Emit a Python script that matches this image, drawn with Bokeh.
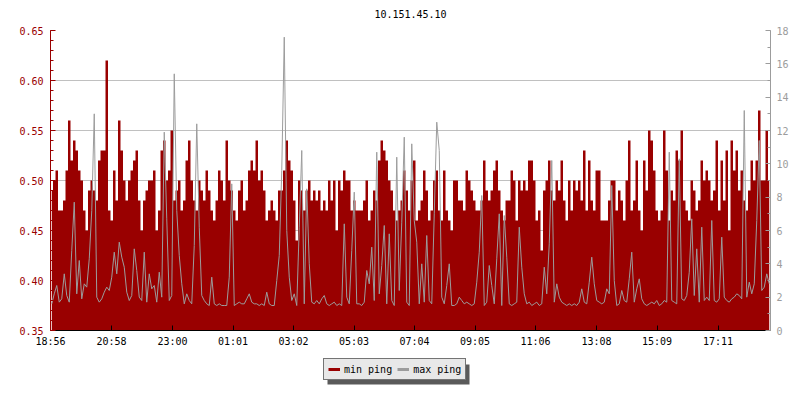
from bokeh.plotting import figure
from bokeh.layouts import column
from bokeh.core.properties import value
from bokeh.models import (Range1d, LinearAxis, FixedTicker, Legend, LegendItem,
                          PrintfTickFormatter, ColumnDataSource)
from bokeh.embed import file_html
from bokeh.resources import INLINE

title_text = "10.151.45.10"
step_minutes = 5
span_minutes = 1440

tick_minutes = [0, 122, 244, 365, 486, 607, 728, 849, 970, 1092, 1213, 1335]
tick_labels = ["18:56", "20:58", "23:00", "01:01", "03:02", "05:03",
               "07:04", "09:05", "11:06", "13:08", "15:09", "17:11"]

left_ticks = [0.35, 0.40, 0.45, 0.50, 0.55, 0.60, 0.65]
left_minor = [0.35, 0.36, 0.37, 0.38, 0.39, 0.40, 0.41, 0.42, 0.43, 0.44, 0.45,
              0.46, 0.47, 0.48, 0.49, 0.50, 0.51, 0.52, 0.53, 0.54, 0.55, 0.56,
              0.57, 0.58, 0.59, 0.60, 0.61, 0.62, 0.63, 0.64, 0.65]
right_ticks = [0, 2, 4, 6, 8, 10, 12, 14, 16, 18]
right_minor = [0, 1, 2, 3, 4, 5, 6, 7, 8, 9, 10, 11, 12, 13, 14, 15, 16, 17, 18]

# min ping (left axis), one value per 5 minutes
min_ping = [
    0.49, 0.50, 0.51, 0.47, 0.47, 0.48, 0.51, 0.56, 0.52, 0.54, 0.53, 0.51, 0.50, 0.47,
    0.45, 0.49, 0.50, 0.49, 0.48, 0.52, 0.53, 0.53, 0.62, 0.47, 0.46, 0.51, 0.48, 0.56,
    0.53, 0.50, 0.48, 0.50, 0.51, 0.52, 0.53, 0.48, 0.45, 0.48, 0.49, 0.50, 0.50,
    0.51, 0.45, 0.47, 0.53, 0.54, 0.50, 0.51, 0.55, 0.48, 0.49, 0.50, 0.47, 0.48, 0.52,
    0.54, 0.50, 0.48, 0.47, 0.50, 0.49, 0.48, 0.51, 0.49, 0.47, 0.46, 0.48, 0.51, 0.50,
    0.48, 0.54, 0.50, 0.49, 0.47, 0.46, 0.49, 0.50, 0.47, 0.48, 0.51, 0.52, 0.51,
    0.54, 0.50, 0.51, 0.49, 0.46, 0.47, 0.48, 0.47, 0.46, 0.49, 0.49, 0.51, 0.54, 0.52,
    0.51, 0.48, 0.44, 0.50, 0.49, 0.47, 0.49, 0.50, 0.48, 0.49, 0.48, 0.49, 0.47, 0.48,
    0.47, 0.50, 0.48, 0.50, 0.45, 0.50, 0.49, 0.51, 0.50, 0.50, 0.47, 0.48, 0.47,
    0.47, 0.47, 0.48, 0.50, 0.46, 0.47, 0.49, 0.48, 0.52, 0.54, 0.53, 0.52, 0.50, 0.49,
    0.47, 0.46, 0.47, 0.48, 0.51, 0.49, 0.47, 0.50, 0.52, 0.46, 0.47, 0.48, 0.51, 0.49,
    0.46, 0.47, 0.50, 0.51, 0.47, 0.46, 0.51, 0.47, 0.46, 0.45, 0.50, 0.50, 0.48,
    0.48, 0.47, 0.51, 0.50, 0.49, 0.48, 0.47, 0.47, 0.48, 0.52, 0.49, 0.48, 0.49, 0.51,
    0.52, 0.49, 0.47, 0.46, 0.48, 0.48, 0.51, 0.50, 0.46, 0.50, 0.49, 0.50, 0.49, 0.52,
    0.52, 0.50, 0.46, 0.47, 0.43, 0.49, 0.50, 0.52, 0.49, 0.48, 0.50, 0.49, 0.52,
    0.48, 0.46, 0.50, 0.47, 0.50, 0.49, 0.50, 0.48, 0.53, 0.47, 0.52, 0.48, 0.47, 0.51,
    0.51, 0.46, 0.46, 0.46, 0.48, 0.50, 0.50, 0.47, 0.49, 0.48, 0.46, 0.50, 0.54, 0.47,
    0.48, 0.52, 0.47, 0.45, 0.52, 0.49, 0.55, 0.54, 0.51, 0.47, 0.46, 0.47, 0.55,
    0.51, 0.46, 0.49, 0.48, 0.53, 0.52, 0.55, 0.48, 0.47, 0.46, 0.50, 0.49, 0.47, 0.48,
    0.52, 0.50, 0.51, 0.50, 0.48, 0.49, 0.54, 0.47, 0.52, 0.48, 0.53, 0.45, 0.54, 0.51,
    0.53, 0.49, 0.51, 0.48, 0.47, 0.49, 0.52, 0.50, 0.52, 0.57, 0.50, 0.50, 0.55, 0.50,
]

# max ping (right axis), one value per 5 minutes
max_ping = [
    1.6, 2.2, 2.7, 1.7, 1.9, 3.4, 2.1, 1.7, 4.8, 7.7, 2.2, 4.2, 1.9, 2.8, 2.6, 4.3, 7.2,
    13.0, 2.0, 1.7, 1.9, 2.3, 2.6, 2.4, 3.2, 4.7, 3.4, 5.3, 4.4, 3.8, 2.3, 1.8, 2.1, 4.9,
    3.6, 2.0, 1.8, 4.7, 1.7, 3.4, 2.5,
    2.7, 1.7, 3.5, 2.0, 11.9, 6.7, 1.8, 2.1, 15.4, 7.2, 4.5, 2.8, 1.6, 2.2, 1.8, 1.6, 5.1,
    12.4, 6.2, 2.1, 1.8, 1.6, 1.5, 3.2, 1.6, 1.5, 1.6, 1.5, 1.5, 1.5, 3.2, 8.8, 1.5, 1.6,
    1.7, 1.6, 1.6, 1.9, 2.2, 1.7, 1.6,
    1.6, 1.5, 1.6, 1.5, 2.3, 1.6, 1.5, 1.5, 3.0, 4.5, 9.6, 17.6, 6.0, 3.2, 1.8, 2.2, 1.5,
    6.2, 10.8, 1.6, 8.5, 4.0, 1.7, 1.6, 1.8, 1.6, 1.9, 2.1, 1.6, 1.5, 1.6, 1.7, 1.5, 1.6,
    1.5, 6.4, 2.0, 1.6, 4.8, 8.3, 1.6,
    1.6, 1.5, 1.7, 3.6, 2.8, 5.0, 1.8, 10.7, 2.2, 3.9, 6.3, 1.6, 5.8, 1.8, 1.5, 10.4, 2.4,
    6.5, 11.6, 1.7, 1.5, 11.2, 6.6, 5.3, 1.6, 4.0, 1.7, 5.7, 1.8, 1.6, 7.0, 12.5, 10.8,
    2.0, 1.6, 2.7, 4.0, 1.5, 1.5, 1.6, 2.0,
    1.8, 1.6, 1.7, 1.6, 1.5, 1.6, 2.9, 4.7, 8.1, 1.5, 1.7, 3.9, 2.7, 1.6, 4.3, 7.0, 1.5,
    6.9, 4.4, 1.6, 1.5, 1.6, 1.7, 6.2, 3.8, 2.2, 1.6, 1.7, 1.5, 1.6, 1.7, 1.5, 1.6, 3.8,
    2.2, 5.2, 10.2, 1.7, 2.8, 2.0, 1.7,
    1.6, 1.5, 1.6, 1.5, 1.6, 1.5, 1.7, 2.5, 1.7, 1.6, 2.9, 4.4, 2.8, 1.8, 1.7, 1.6, 1.7,
    2.5, 2.2, 8.7, 3.0, 1.5, 1.6, 2.4, 1.8, 1.7, 3.1, 4.7, 1.7, 2.5, 3.1, 1.9, 1.6, 1.5,
    1.6, 1.7, 1.6, 1.8, 1.5, 1.6, 1.8,
    1.7, 10.7, 1.8, 1.7, 1.6, 10.3, 1.9, 1.8, 2.1, 3.5, 6.7, 2.1, 4.9, 1.7, 6.2, 1.8, 2.0,
    1.8, 6.6, 1.8, 1.7, 1.9, 5.6, 2.0, 1.8, 1.7, 1.9, 2.0, 2.2, 2.1, 1.9, 13.2, 2.0, 2.9,
    2.2, 2.8, 6.6, 11.4, 2.4, 2.6, 3.4, 2.8,
]

FONT = "DejaVu Sans Mono"
RED = "#990000"
GRAY = "#9c9c9c"

minutes = [i * step_minutes + step_minutes / 2 for i in range(len(min_ping))]
src = ColumnDataSource(dict(t=minutes, mn=min_ping, mx=max_ping))

# title strip (pixel-unit frame spanning page x 50..770)
tf = figure(width=800, height=22, output_backend="svg", toolbar_location=None,
            x_range=Range1d(50, 770), y_range=Range1d(0, 22),
            min_border_left=50, min_border_right=30, min_border_top=0,
            min_border_bottom=0, outline_line_color=None, x_axis_location=None,
            y_axis_location=None, background_fill_color="white",
            border_fill_color="white")
tf.grid.visible = False
tf.text(x=[410], y=[9], text=[title_text], text_align="center",
        text_baseline="middle", text_font=value(FONT), text_font_size="10px",
        text_color="black")

p = figure(width=800, height=330, output_backend="svg", toolbar_location=None,
           x_range=Range1d(0, span_minutes), y_range=Range1d(0.35, 0.65),
           min_border_left=50, min_border_right=30, min_border_top=8,
           min_border_bottom=22, outline_line_color=None,
           background_fill_color="white", border_fill_color="white")

p.extra_y_ranges = {"max": Range1d(0, 18)}

# data
p.varea_step(x="t", y1=0.35, y2="mn", step_mode="center", source=src,
             fill_color=RED, fill_alpha=1)
p.line(x="t", y="mx", y_range_name="max", source=src,
       line_color=GRAY, line_width=1)

# grid
p.xgrid.visible = False
p.ygrid.ticker = FixedTicker(ticks=left_ticks)
p.ygrid.grid_line_color = "#c0c0c0"
p.ygrid.grid_line_width = 1

# left axis
ya = p.yaxis[0]
ya.ticker = FixedTicker(ticks=left_ticks, minor_ticks=left_minor)
ya.formatter = PrintfTickFormatter(format="%.2f")
ya.axis_line_color = RED
ya.major_tick_line_color = RED
ya.minor_tick_line_color = RED
ya.major_label_text_color = RED
ya.major_tick_in = 5
ya.major_tick_out = 0
ya.minor_tick_in = 3
ya.minor_tick_out = 0
ya.major_label_standoff = 7
ya.major_label_text_font = FONT
ya.major_label_text_font_size = "10px"

# right axis
ra = LinearAxis(y_range_name="max",
                ticker=FixedTicker(ticks=right_ticks, minor_ticks=right_minor))
ra.axis_line_color = GRAY
ra.major_tick_line_color = GRAY
ra.minor_tick_line_color = GRAY
ra.major_label_text_color = GRAY
ra.major_tick_in = 5
ra.major_tick_out = 0
ra.minor_tick_in = 3
ra.minor_tick_out = 0
ra.major_label_standoff = 6
ra.major_label_text_font = FONT
ra.major_label_text_font_size = "10px"
p.add_layout(ra, "right")

# bottom axis
xa = p.xaxis[0]
xa.ticker = FixedTicker(ticks=tick_minutes, minor_ticks=[])
xa.major_label_overrides = {m: lab for m, lab in zip(tick_minutes, tick_labels)}
xa.axis_line_color = "black"
xa.major_tick_line_color = "black"
xa.major_tick_in = 5
xa.major_tick_out = 0
xa.minor_tick_line_color = None
xa.major_label_standoff = 5
xa.major_label_text_font = FONT
xa.major_label_text_font_size = "10px"
xa.major_label_text_color = "black"

# legend strip below the chart; its frame spans page x 50..770 (pixel units)
lf = figure(width=800, height=48, output_backend="svg", toolbar_location=None,
            x_range=Range1d(50, 770), y_range=Range1d(0, 48),
            min_border_left=50, min_border_right=30, min_border_top=0,
            min_border_bottom=0, outline_line_color=None, x_axis_location=None,
            y_axis_location=None, background_fill_color="white",
            border_fill_color="white")
lf.grid.visible = False
lf.quad(left=[327], right=[469], top=[36], bottom=[16],
        fill_color="#5a5a5a", line_color=None)
# swatch renderers kept outside the visible range; only their legend glyphs show
r1 = lf.line(x=[0, 10], y=[-20, -20], line_color=RED, line_width=3)
r2 = lf.line(x=[0, 10], y=[-20, -20], line_color=GRAY, line_width=3)
legend = Legend(items=[LegendItem(label="min ping", renderers=[r1]),
                       LegendItem(label="max ping", renderers=[r2])],
                location=(273, 20), orientation="horizontal",
                background_fill_color="#e8e8e8", background_fill_alpha=1,
                border_line_color="black", border_line_width=1,
                padding=4, spacing=5, margin=0, glyph_width=12, glyph_height=12,
                label_standoff=4, label_text_font=FONT, label_text_font_size="10px",
                label_text_color="black")
lf.add_layout(legend)

open("out.html", "w").write(file_html(column(tf, p, lf, spacing=0), INLINE))
